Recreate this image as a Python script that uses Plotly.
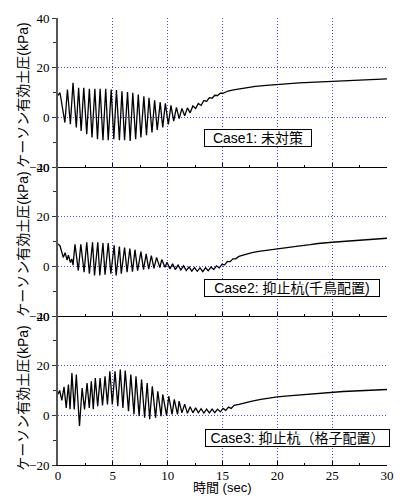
import plotly.graph_objects as go
from plotly.subplots import make_subplots

# ---------------- data ----------------
T1 = [0.0, 0.18, 0.63, 0.86, 1.13, 1.37, 1.67, 1.88, 2.11, 2.35, 2.62, 2.86, 3.1, 3.36, 3.6, 3.84,
      4.1, 4.35, 4.58, 4.85, 5.09, 5.33, 5.6, 5.83, 6.07, 6.34, 6.58, 6.82, 7.08, 7.32, 7.56, 7.83,
      8.07, 8.3, 8.57, 8.81, 9.05, 9.32, 9.55, 9.79, 10.06, 10.3, 10.55, 10.8, 11.05, 11.3, 11.55,
      11.8, 12.05, 12.3, 12.55, 12.8, 13.05, 13.3, 13.55, 13.8, 14.05, 14.3, 14.55, 14.8, 15.05,
      15.5, 16.0, 16.5, 17.0, 18.0, 19.0, 20.0, 21.0, 22.0, 23.0, 24.0, 25.0, 26.0, 27.0, 28.0,
      29.0, 30.0]
V1 = [8.8, 9.9, -2.1, 11.2, -2.8, 13.9, -4.1, 11.9, -5.5, 11.9, -6.8, 11.5, -8.1, 11.5, -8.8, 11.5,
      -9.2, 11.5, -9.2, 11.2, -8.8, 11.0, -9.2, 10.5, -9.2, 10.2, -9.5, 9.9, -8.8, 9.2, -8.1, 8.5,
      -7.2, 7.9, -6.1, 6.9, -5.1, 6.1, -4.1, 5.6, -2.8, 4.8, -1.5, 4.0, -0.5, 3.6, 0.6,
      3.8, 1.8, 4.6, 3.6, 5.6, 4.8, 6.8, 6.4, 7.9, 7.7, 8.9, 8.8, 9.7, 9.7,
      10.6, 11.1, 11.5, 11.9, 12.5, 12.9, 13.3, 13.6, 13.9, 14.1, 14.3, 14.4, 14.6, 14.8, 15.0,
      15.2, 15.5]

T2 = [0.0, 0.18, 0.48, 0.65, 0.83, 0.95, 1.13, 1.25, 1.37, 1.55, 1.85, 2.08, 2.38, 2.62, 2.86, 3.15,
      3.33, 3.63, 3.81, 4.1, 4.29, 4.58, 4.82, 5.12, 5.3, 5.6, 5.77, 6.07, 6.3, 6.55, 6.79, 7.02,
      7.26, 7.56, 7.8, 8.04, 8.27, 8.51, 8.75, 8.99, 9.29, 9.46, 9.76, 9.94, 10.2, 10.45, 10.7,
      10.95, 11.2, 11.45, 11.7, 11.95, 12.2, 12.45, 12.7, 12.95, 13.2, 13.45, 13.7, 13.95, 14.2,
      14.45, 14.7, 14.95, 15.2, 15.45, 15.7, 15.95, 16.2, 16.5, 16.8, 17.2, 17.7, 18.3, 18.9, 20.0,
      21.0, 21.9, 23.0, 23.7, 25.0, 26.0, 26.7, 27.5, 28.5, 29.3, 30.0]
V2 = [9.0, 8.3, 3.6, 5.5, 2.5, 4.5, 1.5, 3.0, 0.5, 8.9, -1.7, 8.9, -2.4, 9.7, -3.0, 9.7,
      -3.7, 9.7, -3.7, 9.4, -3.4, 9.4, -3.0, 8.5, -3.7, 8.0, -3.0, 7.6, -2.4, 7.2, -2.2, 6.7,
      -1.7, 5.9, -1.3, 5.0, -1.1, 4.3, -0.8, 3.6, -0.5, 2.7, -0.4, 1.6, -1.0, 1.0, -1.3,
      0.5, -1.5, 0.2, -1.7, -0.2, -1.9, -0.5, -2.0, -0.6, -2.1, -0.6, -1.8, -0.3, -1.3,
      0.2, -0.6, 0.8, 0.6, 2.0, 1.9, 3.0, 3.0, 4.0, 4.4, 5.0, 5.5, 6.0, 6.4, 7.1,
      7.6, 8.1, 8.7, 9.2, 9.7, 10.0, 10.3, 10.5, 10.8, 11.0, 11.3]

T3 = [0.0, 0.15, 0.35, 0.55, 0.75, 0.95, 1.1, 1.27, 1.48, 1.67, 1.96, 2.2, 2.42, 2.65, 2.85, 3.04,
      3.22, 3.4, 3.62, 3.84, 4.06, 4.29, 4.51, 4.73, 4.95, 5.2, 5.45, 5.68, 5.92, 6.13, 6.43, 6.64,
      6.93, 7.11, 7.4, 7.62, 7.9, 8.13, 8.36, 8.6, 8.9, 9.1, 9.4, 9.55, 9.9, 10.1, 10.4, 10.6,
      10.9, 11.04, 11.3, 11.55, 11.8, 12.05, 12.3, 12.55, 12.8, 13.05, 13.3, 13.55, 13.8, 14.05,
      14.3, 14.55, 14.8, 15.05, 15.3, 15.55, 15.8, 16.05, 16.5, 17.0, 17.7, 18.5, 19.3, 20.0,
      21.0, 22.5, 23.5, 25.0, 26.0, 27.5, 28.5, 30.0]
V3 = [8.5, 10.0, 6.0, 11.5, 3.0, 12.4, 2.5, 17.0, 2.4, 16.4, -4.3, 11.0, 2.4, 13.0, 3.0, 13.7,
      2.5, 15.0, 3.7, 15.0, 4.0, 15.7, 4.4, 17.7, 4.4, 17.7, 3.7, 18.4, 3.0, 18.0, 1.7, 16.4,
      0.4, 15.7, -0.3, 14.4, -1.0, 13.0, -1.6, 11.7, -1.0, 9.7, -0.3, 8.4, 0.0, 7.7, 0.4, 6.4,
      0.4, 5.7, 1.0, 4.5, 0.8, 3.5, 1.0, 3.0, 1.0, 2.7, 0.9, 2.5, 1.0, 2.5,
      1.1, 2.5, 1.4, 2.8, 2.0, 3.3, 2.8, 4.0, 4.4, 5.0, 5.7, 6.4, 7.0, 7.4,
      7.8, 8.4, 8.8, 9.3, 9.6, 9.9, 10.1, 10.4]

CASE_LABELS = ["Case1: 未対策", "Case2: 抑止杭(千鳥配置)", "Case3: 抑止杭（格子配置）"]
Y_TITLE = "ケーソン有効土圧(kPa)"
X_TITLE = "時間 (sec)"
Y_TICKS = [-20, 0, 20, 40]
X_TICKS = [0, 5, 10, 15, 20, 25, 30]

SERIES = [(T1, V1), (T2, V2), (T3, V3)]

# ---------------- figure ----------------
fig = make_subplots(rows=3, cols=1, shared_xaxes=True, vertical_spacing=0)

for i, (t, v) in enumerate(SERIES, start=1):
    fig.add_trace(go.Scatter(x=t, y=v, mode="lines",
                             line=dict(color="black", width=1.3),
                             showlegend=False, hoverinfo="skip"), row=i, col=1)

SERIF = "Liberation Serif, Times New Roman, serif"
SANS = "Liberation Sans, Arial, Noto Sans CJK JP, sans-serif"
GRID = "rgb(70,70,255)"
GDASH = "1px,2px"

for i in range(1, 4):
    fig.update_xaxes(range=[0, 30], tickvals=X_TICKS, ticks="inside", ticklen=4,
                     tickcolor="black", tickwidth=1,
                     minor=dict(dtick=2.5, ticks="inside", ticklen=2, tickcolor="black",
                                showgrid=False),
                     showline=True, linecolor="black", linewidth=1, mirror=False,
                     showgrid=True, gridcolor=GRID, griddash=GDASH, gridwidth=1,
                     zeroline=False, showticklabels=(i == 3),
                     ticklabeloverflow="allow", ticklabelstandoff=-2,
                     tickfont=dict(family=SERIF, size=13, color="black"),
                     row=i, col=1)
    fig.update_yaxes(range=[-20, 40], tickvals=Y_TICKS, ticks="outside", ticklen=4,
                     tickcolor="#333", tickwidth=1,
                     minor=dict(dtick=10, ticks="outside", ticklen=3, tickcolor="#333",
                                showgrid=False),
                     showline=True, linecolor="#555", linewidth=2, mirror=False,
                     showgrid=True, gridcolor=GRID, griddash=GDASH, gridwidth=1,
                     zeroline=False, ticklabeloverflow="allow",
                     tickfont=dict(family=SERIF, size=13, color="black"),
                     row=i, col=1)

# pixel helpers for annotation placement (plot area: x 58..394, y 18..465)
L, R, T, B = 58, 6, 18, 31
W, H = 400, 496
pw, ph = W - L - R, H - T - B


def px_x(p):
    return (p - L) / pw


def px_y(p):
    return (H - B - p) / ph


annotations = []
# y-axis titles
for yc in [95, 244, 398]:
    annotations.append(dict(text=Y_TITLE, textangle=-90, xref="paper", yref="paper",
                            x=px_x(22), y=px_y(yc), xanchor="center", yanchor="middle",
                            showarrow=False, font=dict(family=SANS, size=14, color="black")))
# case boxes
boxes = [(207, 138, 106), (207, 288, 174), (208, 438, 183)]
for lab, (bx, by, bw) in zip(CASE_LABELS, boxes):
    annotations.append(dict(text=lab, xref="paper", yref="paper",
                            x=px_x(bx), y=px_y(by), xanchor="left", yanchor="middle",
                            width=bw, height=16, align="center",
                            showarrow=False, bgcolor="white", bordercolor="black",
                            borderwidth=1, borderpad=0,
                            font=dict(family=SANS, size=14, color="black")))
# x-axis title
annotations.append(dict(text=X_TITLE, xref="paper", yref="paper", x=px_x(226), y=px_y(488),
                        xanchor="center", yanchor="middle", showarrow=False,
                        font=dict(family=SANS, size=13, color="black")))

fig.update_layout(width=W, height=H, margin=dict(l=L, r=R, t=T, b=B, pad=0),
                  paper_bgcolor="white", plot_bgcolor="white",
                  annotations=annotations, showlegend=False)

fig.write_html("out.html", config={"displayModeBar": False})
